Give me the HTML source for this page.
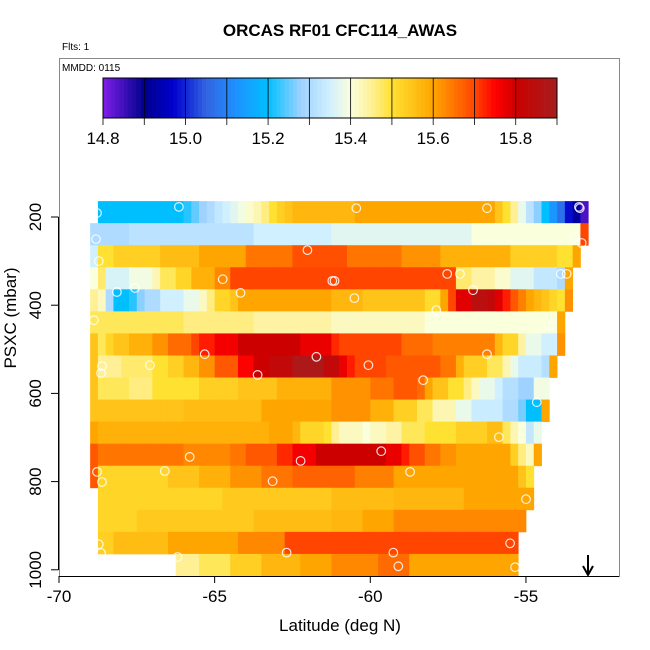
<!DOCTYPE html>
<html><head><meta charset="utf-8"><style>
html,body{margin:0;padding:0;background:#fff;}
svg{display:block;font-family:"Liberation Sans",sans-serif;}
</style></head><body>
<svg id="chart" width="650" height="650" viewBox="0 0 650 650">
<text x="340" y="36" text-anchor="middle" font-size="17" font-weight="bold">ORCAS RF01 CFC114_AWAS</text>
<text x="62" y="50" font-size="10">Flts: 1</text>
<g id="cells"></g>
<g id="pts"></g>
<g id="cbar"></g>
<text x="62" y="71" font-size="10">MMDD: 0115</text>
<rect x="59.5" y="58.5" width="560" height="518" fill="none" stroke="#888" stroke-width="1"/>
<g id="axes"></g>
<text x="340" y="631" text-anchor="middle" font-size="17">Latitude (deg N)</text>
<text transform="translate(16,318) rotate(-90)" text-anchor="middle" font-size="17">PSXC (mbar)</text>
<g>
<line x1="588" y1="555" x2="588" y2="574" stroke="#000" stroke-width="2"/>
<path d="M583,566 L588,575 L593,566" fill="none" stroke="#000" stroke-width="2"/>
</g>
</svg>
<script>
function rep(v,n){var a=[];for(var i=0;i<n;i++)a.push(v);return a;}
function cat(){return [].concat.apply([],arguments);}
var rowPressure=[189,239,289,339,389,439,489,539,589,639,689,739,789,839,889,939,989];
var rowStartLat=[-68.75,-69,-69,-69,-69,-69,-69,-69,-69,-69,-69,-69,-69,-68.75,-68.75,-68.75,-66.25];
var rowValues=[
cat(rep(15.2,11),[15.22,15.25,15.28,15.3,15.33,15.35,15.37,15.39,15.41,15.43,15.46,15.5,15.53,15.55],rep(15.57,8),rep(15.6,18),[15.55,15.5,15.45,15.38,15.32,15.27,15.2,15.13,15.07,14.98,14.92,14.84]),
cat(rep(15.3,5),rep(15.32,16),rep(15.35,10),rep(15.37,18),rep(15.4,14),[15.7]),
cat([15.35],rep(15.5,2),rep(15.53,6),rep(15.56,5),rep(15.6,6),rep(15.65,6),rep(15.69,7),rep(15.65,7),rep(15.62,5),rep(15.58,9),rep(15.53,6),rep(15.5,2),[15.6]),
cat([15.4,15.47],rep(15.36,3),rep(15.39,3),[15.43],rep(15.48,2),rep(15.52,2),rep(15.58,3),rep(15.63,2),rep(15.7,29),rep(15.47,2),rep(15.44,3),rep(15.41,2),rep(15.37,3),rep(15.33,3),[15.3,15.6]),
cat([15.45,15.42,15.3],rep(15.2,2),[15.22,15.27],rep(15.3,2),rep(15.35,3),rep(15.38,2),[15.42,15.46],rep(15.52,2),[15.55],rep(15.6,12),rep(15.57,4),rep(15.55,8),rep(15.51,2),[15.6,15.7],rep(15.78,2),rep(15.85,2),[15.83,15.78,15.73,15.68,15.64,15.6,15.57,15.55,15.52,15.5,15.62]),
cat(rep(15.48,12),rep(15.46,9),rep(15.44,10),rep(15.42,12),rep(15.4,17),[15.6]),
cat([15.55,15.48,15.52],rep(15.55,2),rep(15.58,3),rep(15.62,2),rep(15.66,3),[15.7],rep(15.73,2),rep(15.76,3),rep(15.8,8),rep(15.77,4),[15.72],rep(15.7,8),rep(15.66,4),rep(15.64,8),[15.57],rep(15.52,2),[15.44],rep(15.38,2),rep(15.35,2),[15.62]),
cat([15.55],rep(15.45,3),rep(15.47,4),rep(15.5,2),rep(15.53,2),rep(15.57,2),rep(15.62,2),rep(15.68,3),rep(15.75,2),rep(15.8,2),rep(15.83,3),rep(15.88,4),rep(15.83,2),[15.77,15.73],rep(15.7,4),rep(15.68,7),rep(15.65,2),[15.58],rep(15.53,3),rep(15.48,2),[15.43,15.38],rep(15.34,3),[15.31,15.6]),
cat([15.55],rep(15.48,4),rep(15.46,3),rep(15.5,6),rep(15.53,5),rep(15.55,5),rep(15.58,7),rep(15.62,5),rep(15.65,3),rep(15.68,3),[15.66,15.6],rep(15.55,2),rep(15.5,2),[15.46,15.42],rep(15.38,2),[15.35],rep(15.31,2),rep(15.28,2),rep(15.39,2)),
cat(rep(15.55,12),rep(15.56,10),rep(15.6,9),rep(15.62,5),rep(15.58,3),rep(15.53,3),rep(15.48,2),rep(15.43,3),rep(15.38,2),rep(15.34,4),rep(15.3,2),[15.26],rep(15.2,2),[15.6]),
cat([15.6],rep(15.58,22),rep(15.6,3),[15.57],rep(15.52,3),[15.5,15.45],rep(15.42,3),[15.4],rep(15.42,2),rep(15.44,2),rep(15.48,3),rep(15.5,4),rep(15.53,4),rep(15.56,2),[15.48,15.43,15.4,15.33,15.38]),
cat([15.68],rep(15.65,11),rep(15.63,6),rep(15.65,2),rep(15.68,4),rep(15.72,2),rep(15.76,3),rep(15.8,9),rep(15.77,2),[15.73],rep(15.69,2),rep(15.65,2),rep(15.62,2),rep(15.6,7),[15.53,15.46,15.42,15.6]),
cat([15.68],rep(15.52,9),rep(15.55,4),rep(15.58,4),rep(15.62,4),rep(15.65,4),rep(15.67,8),rep(15.64,5),rep(15.6,16),[15.55,15.5]),
cat(rep(15.52,16),rep(15.54,14),rep(15.56,8),rep(15.57,9),rep(15.6,9)),
cat(rep(15.52,5),rep(15.54,15),rep(15.56,10),rep(15.57,4),rep(15.6,4),rep(15.63,17)),
cat(rep(15.53,2),rep(15.56,7),rep(15.6,9),rep(15.63,6),rep(15.7,30)),
cat(rep(15.45,3),rep(15.48,4),rep(15.53,4),rep(15.57,5),rep(15.6,4),rep(15.63,6),rep(15.66,4),rep(15.6,14))
];
var cellWidthDeg=0.25, rowHeightMbar=50;
var ptLat=[-68.78,-66.15,-68.81,-68.72,-62.02,-64.74,-61.22,-68.14,-67.56,-64.17,-68.88,-65.32,-61.73,-68.62,-68.65,-67.08,-63.62,-60.45,-56.25,-53.27,-53.30,-53.43,-53.21,-57.53,-57.12,-61.15,-53.88,-53.69,-56.70,-60.51,-57.88,-54.23,-60.06,-56.25,-58.30,-65.80,-62.24,-68.78,-66.60,-68.62,-63.14,-68.72,-68.65,-66.19,-62.69,-54.65,-55.87,-59.65,-58.72,-55.0,-55.51,-59.26,-59.10,-55.35];
var ptPress=[191,177,250,300,275,341,345,370,361,372,434,511,517,538,554,536,558,180,180,180,177,245,259,329,329,345,329,329,366,384,411,447,536,511,570,744,753,778,776,801,799,942,962,971,961,620,699,731,778,840,940,961,992,994];
var xTicks=[-70,-65,-60,-55];
var yTicks=[200,400,600,800,1000];
var cbTicks=[14.8,15.0,15.2,15.4,15.6,15.8];
var cbMin=14.8, cbMax=15.9;

function xS(lat){return 59+(lat+70)*31.13;}
function yS(p){return 217+(p-200)*0.441;}
function cbX(v){return 103+(v-cbMin)/(cbMax-cbMin)*454;}
var stops=[[14.8,[127,31,232]],[14.9,[0,0,139]],[14.97,[0,0,205]],[15.05,[50,100,225]],[15.12,[30,144,255]],[15.2,[0,191,255]],[15.28,[160,210,255]],[15.35,[208,240,255]],[15.4,[250,255,220]],[15.45,[255,240,150]],[15.5,[255,225,50]],[15.6,[255,165,0]],[15.7,[255,69,0]],[15.75,[255,0,0]],[15.8,[205,0,0]],[15.9,[165,30,30]]];
function col(v){
 if(v<=stops[0][0])return 'rgb('+stops[0][1]+')';
 for(var i=1;i<stops.length;i++){if(v<=stops[i][0]){var a=stops[i-1],b=stops[i],t=(v-a[0])/(b[0]-a[0]);
  return 'rgb('+[0,1,2].map(function(j){return Math.round(a[1][j]+(b[1][j]-a[1][j])*t);}).join(',')+')';}}
 return 'rgb('+stops[stops.length-1][1]+')';
}
var NS='http://www.w3.org/2000/svg';
function mk(tag,attrs,parent){var e=document.createElementNS(NS,tag);for(var k in attrs)e.setAttribute(k,attrs[k]);parent.appendChild(e);return e;}
var gc=document.getElementById('cells');
rowValues.forEach(function(vals,r){
 var y0=yS(rowPressure[r]-rowHeightMbar/2), y1=Math.min(yS(rowPressure[r]+rowHeightMbar/2),576);
 vals.forEach(function(v,i){
  var l=rowStartLat[r]+i*cellWidthDeg;
  var x0=xS(l),x1=xS(l+cellWidthDeg);
  var e=mk('rect',{x:x0.toFixed(2),y:y0.toFixed(2),width:(x1-x0+0.4).toFixed(2),height:(y1-y0+0.4).toFixed(2),fill:col(v)},gc);
  
  
 });
});
var gp=document.getElementById('pts');
ptLat.forEach(function(l,i){
 var e=mk('circle',{cx:xS(l).toFixed(1),cy:yS(ptPress[i]).toFixed(1),r:4.3,fill:'none',stroke:'rgba(255,255,255,0.85)','stroke-width':1.2},gp);
 
 
});
var gb=document.getElementById('cbar');
for(var v=cbMin;v<cbMax-0.0001;v+=0.01){
 var e=mk('rect',{x:cbX(v).toFixed(2),y:78,width:(454/110+0.3).toFixed(2),height:40,fill:col(v+0.005)},gb);
 
 
}
for(var k=0;k<=11;k++){
 var xv=cbX(cbMin+k*0.1);
 mk('line',{x1:xv,y1:78,x2:xv,y2:118,stroke:'#000','stroke-width':0.8},gb);
 mk('line',{x1:xv,y1:118,x2:xv,y2:125,stroke:'#000','stroke-width':0.8},gb);
}
mk('rect',{x:103,y:78,width:454,height:40,fill:'none',stroke:'#000','stroke-width':1},gb);
cbTicks.forEach(function(t){
 var e=mk('text',{x:cbX(t),y:144,'text-anchor':'middle','font-size':17},gb);
 e.textContent=t.toFixed(1);
 
 
});
var ga=document.getElementById('axes');
mk('line',{x1:59,y1:576.5,x2:619,y2:576.5,stroke:'#000','stroke-width':1},ga);
mk('line',{x1:58.5,y1:217,x2:58.5,y2:570,stroke:'#000','stroke-width':1},ga);
xTicks.forEach(function(t){
 var x=xS(t);
 mk('line',{x1:x,y1:576,x2:x,y2:583,stroke:'#000'},ga);
 var e=mk('text',{x:x,y:602,'text-anchor':'middle','font-size':17},ga);
 e.textContent=String(t);
 
 
});
yTicks.forEach(function(t){
 var y=yS(t);
 mk('line',{x1:51,y1:y,x2:58.5,y2:y,stroke:'#000'},ga);
 var e=mk('text',{transform:'translate(41,'+y+') rotate(-90)','text-anchor':'middle','font-size':17},ga);
 e.textContent=String(t);
 
 
});
</script>
</body></html>
